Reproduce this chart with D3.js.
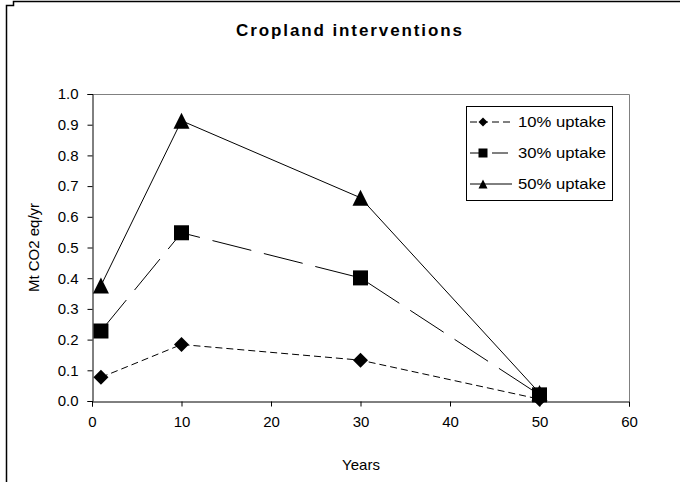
<!DOCTYPE html>
<html>
<head>
<meta charset="utf-8">
<script src="https://cdn.jsdelivr.net/npm/d3@7"></script>
<style>
  body { margin: 0; background: #fff; }
  svg { display: block; font-family: 'Liberation Sans', Arial, sans-serif; }
</style>
</head>
<body>
<svg id="main-container" width="680" height="482"></svg>
<script>
const years = [1, 10, 30, 50];
const uptake10 = [0.077, 0.184, 0.133, 0.006];
const uptake30 = [0.228, 0.548, 0.401, 0.02];
const uptake50 = [0.376, 0.913, 0.662, 0.026];
const seriesNames = ['10% uptake', '30% uptake', '50% uptake'];
const xTicks = [0, 10, 20, 30, 40, 50, 60];
const yTicks = [0, 0.1, 0.2, 0.3, 0.4, 0.5, 0.6, 0.7, 0.8, 0.9, 1.0];

function drawMarker(g, type, x, y, s) {
  if (type === 'diamond') {
    g.append('path')
      .attr('d', `M${x},${y - s / 2}L${x + s / 2},${y}L${x},${y + s / 2}L${x - s / 2},${y}Z`)
      .attr('fill', '#000');
  } else if (type === 'square') {
    g.append('rect')
      .attr('x', x - s / 2)
      .attr('y', y - s / 2)
      .attr('width', s)
      .attr('height', s)
      .attr('fill', '#000');
  } else {
    g.append('path')
      .attr('d', `M${x},${y - s / 2}L${x + s / 2},${y + s / 2}L${x - s / 2},${y + s / 2}Z`)
      .attr('fill', '#000');
  }
}

function mainEntryPoint() {
  const svg = d3.select('#main-container');

  // outer chart frame (cropped at the top left)
  svg.append('path')
    .attr('d', 'M6.5,482V5.5H13.5V1.5H680')
    .attr('fill', 'none')
    .attr('stroke', '#000')
    .attr('stroke-width', 1.5);

  const left = 92, right = 629, top = 94, bottom = 401;

  const x = d3.scaleLinear().domain([0, 60]).range([left, right]);
  const y = d3.scaleLinear().domain([0, 1]).range([bottom, top]);

  // plot area border
  svg.append('path')
    .attr('d', `M${left},${top + 0.5}H${right + 0.5}V${bottom}`)
    .attr('fill', 'none')
    .attr('stroke', '#808080')
    .attr('stroke-width', 1);

  const xAxis = svg.append('g')
    .attr('transform', `translate(0,${bottom + 0.5})`)
    .call(d3.axisBottom(x).tickValues(xTicks).tickSize(5).tickPadding(10).tickFormat(d3.format('d')));

  const yAxis = svg.append('g')
    .attr('transform', `translate(${left + 0.5},0)`)
    .call(d3.axisLeft(y).tickValues(yTicks).tickSize(5).tickPadding(9).tickFormat(d3.format('.1f')));

  [xAxis, yAxis].forEach(function(a) {
    a.select('.domain').attr('stroke', '#000');
    a.selectAll('line').attr('stroke', '#000');
    a.selectAll('text')
      .attr('font-size', 15)
      .attr('font-family', "'Liberation Sans', Arial, sans-serif")
      .attr('fill', '#000');
  });

  // titles
  svg.append('text')
    .attr('x', 349)
    .attr('y', 36)
    .attr('text-anchor', 'middle')
    .attr('font-size', 17)
    .attr('font-weight', 'bold')
    .attr('textLength', 226)
    .attr('lengthAdjust', 'spacing')
    .text('Cropland interventions');

  svg.append('text')
    .attr('x', 361)
    .attr('y', 470)
    .attr('text-anchor', 'middle')
    .attr('font-size', 15)
    .text('Years');

  svg.append('text')
    .attr('transform', `translate(39,${(top + bottom) / 2}) rotate(-90)`)
    .attr('text-anchor', 'middle')
    .attr('font-size', 15)
    .text('Mt CO2 eq/yr');

  const series = [
    {name: seriesNames[0], values: uptake10, dash: '7,4', marker: 'diamond', size: 15},
    {name: seriesNames[1], values: uptake30, dash: '40,13', marker: 'square', size: 15},
    {name: seriesNames[2], values: uptake50, dash: null, marker: 'triangle', size: 16}
  ];

  const line = d3.line()
    .x(function(d) { return x(d[0]); })
    .y(function(d) { return y(d[1]); });

  series.forEach(function(s) {
    const pts = years.map(function(yr, i) { return [yr, s.values[i]]; });
    const g = svg.append('g');
    g.append('path')
      .attr('d', line(pts))
      .attr('fill', 'none')
      .attr('stroke', '#000')
      .attr('stroke-width', 1)
      .attr('stroke-dasharray', s.dash);
    pts.forEach(function(p) {
      drawMarker(g, s.marker, x(p[0]), y(p[1]), s.size);
    });
  });

  // legend
  const legend = svg.append('g');
  legend.append('rect')
    .attr('x', 466.5)
    .attr('y', 106.5)
    .attr('width', 146)
    .attr('height', 94)
    .attr('fill', '#fff')
    .attr('stroke', '#000')
    .attr('stroke-width', 1);

  series.forEach(function(s, i) {
    const ly = 122 + i * 31;
    legend.append('line')
      .attr('x1', 470)
      .attr('x2', 512)
      .attr('y1', ly)
      .attr('y2', ly)
      .attr('stroke', '#000')
      .attr('stroke-dasharray', s.dash === '40,13' ? '16,6' : s.dash);
    drawMarker(legend, s.marker, 483, ly, 9);
    legend.append('text')
      .attr('x', 518)
      .attr('y', ly + 5)
      .attr('font-size', 15)
      .attr('textLength', 88)
      .attr('lengthAdjust', 'spacingAndGlyphs')
      .text(s.name);
  });
}

document.addEventListener('DOMContentLoaded', mainEntryPoint);
</script>
</body>
</html>
